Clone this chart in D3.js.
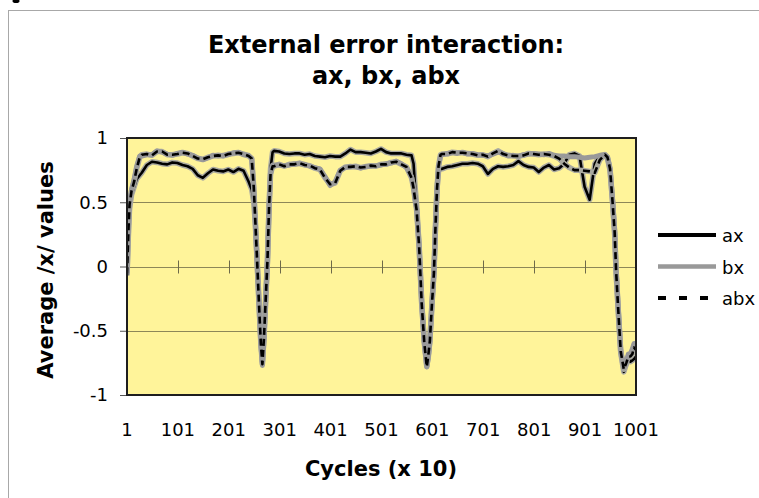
<!DOCTYPE html>
<html>
<head>
<meta charset="utf-8">
<script src="https://cdn.jsdelivr.net/npm/d3@7"></script>
<style>
  body { margin: 0; background: #fff; }
  svg { display: block; font-family: "DejaVu Sans", Verdana, sans-serif; }
</style>
</head>
<body>
<div id="chart"></div>
<script>
// values (cycles x 10)
const cycles = [
    1, 4, 6, 10, 15, 20, 26, 30,
    40, 50, 60, 70, 80, 90, 100, 110, 120, 130, 140, 150, 160, 170, 180, 190, 200, 210, 220, 230, 240,
    246, 250, 253, 256, 261, 264, 267, 270, 273, 277, 280, 283, 287,
    290, 300, 310, 320, 330, 340, 350, 360, 370, 380, 390, 400, 410, 420, 430, 440, 450, 460, 470, 480, 490, 500, 510, 520, 530, 540, 550, 560,
    564, 567, 570, 575, 580, 585, 590, 593, 596, 600, 604, 607, 610, 613, 617,
    620, 630, 640, 650, 660, 670, 680, 690, 700, 710, 720, 730, 740, 750, 760, 770, 780, 790, 800, 810, 820, 830, 840, 850, 860, 870, 880, 890, 900, 910, 920, 930, 940, 945, 950,
    955, 959, 962, 966, 971, 977, 982, 986, 990, 994, 997, 1001
]
const axValues = [
    -0.07, 0.28, 0.45, 0.56, 0.62, 0.68, 0.71, 0.73,
    0.79, 0.815, 0.81, 0.8, 0.795, 0.81, 0.805, 0.79, 0.78, 0.76, 0.71, 0.69, 0.725, 0.755, 0.745, 0.74, 0.755, 0.735, 0.76, 0.745, 0.66,
    0.6, 0.5, 0.34, 0.1, -0.34, -0.58, -0.74, -0.56, -0.3, 0.05, 0.45, 0.76, 0.89,
    0.9, 0.895, 0.88, 0.875, 0.88, 0.88, 0.87, 0.875, 0.86, 0.855, 0.85, 0.86, 0.855, 0.855, 0.88, 0.91, 0.89, 0.89, 0.885, 0.88, 0.895, 0.915, 0.89, 0.88, 0.88, 0.88, 0.87, 0.865,
    0.8, 0.62, 0.48, 0.15, -0.28, -0.58, -0.77, -0.7, -0.58, -0.3, -0.05, 0.3, 0.6, 0.74, 0.76,
    0.76, 0.775, 0.78, 0.79, 0.8, 0.8, 0.805, 0.8, 0.78, 0.72, 0.76, 0.78, 0.775, 0.78, 0.79, 0.82, 0.79, 0.775, 0.77, 0.735, 0.77, 0.79, 0.755, 0.765, 0.8, 0.87, 0.88, 0.86, 0.62, 0.52, 0.8, 0.86, 0.87, 0.84, 0.75,
    0.5, 0.26, -0.05, -0.34, -0.67, -0.82, -0.76, -0.72, -0.74, -0.73, -0.72, -0.7
]
const bxValues = [
    -0.05, 0.32, 0.5, 0.6, 0.68, 0.78, 0.86, 0.86,
    0.87, 0.87, 0.9, 0.89, 0.875, 0.865, 0.88, 0.89, 0.875, 0.865, 0.845, 0.83, 0.845, 0.865, 0.86, 0.865, 0.87, 0.885, 0.89, 0.87, 0.865,
    0.84, 0.62, 0.36, 0.1, -0.34, -0.6, -0.77, -0.57, -0.3, 0.05, 0.45, 0.72, 0.79,
    0.79, 0.79, 0.785, 0.79, 0.8, 0.8, 0.795, 0.78, 0.77, 0.76, 0.7, 0.63, 0.66, 0.75, 0.77, 0.78, 0.775, 0.765, 0.78, 0.78, 0.785, 0.79, 0.8, 0.805, 0.82, 0.8, 0.77, 0.7,
    0.62, 0.52, 0.45, 0.15, -0.28, -0.58, -0.78, -0.7, -0.58, -0.3, -0.05, 0.3, 0.6, 0.78, 0.86,
    0.87, 0.88, 0.885, 0.88, 0.89, 0.875, 0.88, 0.87, 0.865, 0.86, 0.875, 0.89, 0.88, 0.86, 0.865, 0.855, 0.87, 0.875, 0.88, 0.875, 0.87, 0.88, 0.865, 0.86, 0.86, 0.855, 0.855, 0.85, 0.845, 0.85, 0.855, 0.865, 0.87, 0.85, 0.76,
    0.52, 0.28, -0.03, -0.32, -0.65, -0.79, -0.74, -0.68, -0.68, -0.64, -0.6, -0.6
]
const abxValues = [
    -0.06, 0.3, 0.48, 0.59, 0.66, 0.76, 0.85, 0.87,
    0.875, 0.865, 0.895, 0.895, 0.87, 0.87, 0.875, 0.885, 0.88, 0.86, 0.84, 0.835, 0.85, 0.86, 0.865, 0.86, 0.875, 0.88, 0.885, 0.875, 0.86,
    0.84, 0.62, 0.36, 0.1, -0.35, -0.6, -0.76, -0.56, -0.3, 0.05, 0.45, 0.72, 0.78,
    0.78, 0.795, 0.78, 0.795, 0.795, 0.805, 0.79, 0.785, 0.765, 0.755, 0.69, 0.64, 0.65, 0.745, 0.775, 0.775, 0.78, 0.77, 0.775, 0.785, 0.78, 0.795, 0.795, 0.81, 0.815, 0.795, 0.775, 0.69,
    0.61, 0.52, 0.44, 0.15, -0.29, -0.59, -0.78, -0.69, -0.58, -0.3, -0.05, 0.3, 0.6, 0.78, 0.87,
    0.875, 0.875, 0.89, 0.885, 0.885, 0.88, 0.875, 0.865, 0.87, 0.855, 0.88, 0.9, 0.875, 0.865, 0.86, 0.86, 0.865, 0.88, 0.875, 0.87, 0.875, 0.87, 0.86, 0.84, 0.8, 0.77, 0.75, 0.75, 0.745, 0.74, 0.73, 0.83, 0.87, 0.85, 0.76,
    0.5, 0.27, -0.04, -0.33, -0.66, -0.8, -0.75, -0.7, -0.7, -0.68, -0.63, -0.65
]
const seriesNames = ["ax", "bx", "abx"]
const yTicks = [-1, -0.5, 0, 0.5, 1]
const xTicks = [1, 101, 201, 301, 401, 501, 601, 701, 801, 901, 1001]
const titleLines = ["External error interaction:", "ax, bx, abx"]

const width = 759
const height = 498
const plot = { left: 127, right: 636, top: 138, bottom: 395 }

const svg = d3.select("#chart")
    .append("svg")
    .attr("width", width)
    .attr("height", height)

const x = d3.scaleLinear().domain([1, 1001]).range([plot.left, plot.right])
const y = d3.scaleLinear().domain([-1, 1]).range([plot.bottom, plot.top])

// chart frame
svg.append("rect")
    .attr("x", 8.5).attr("y", 10.5)
    .attr("width", 900).attr("height", 700)
    .attr("fill", "#fff")
    .attr("stroke", "#a8a8a8")

// bit of a glyph from the page above the frame
svg.append("ellipse")
    .attr("cx", 16).attr("cy", 1)
    .attr("rx", 3.5).attr("ry", 2)
    .attr("fill", "#000")

// title
svg.selectAll(".title")
    .data(titleLines)
    .enter()
    .append("text")
    .attr("class", "title")
    .attr("x", 386)
    .attr("y", (d, i) => 53 + i * 31)
    .attr("text-anchor", "middle")
    .attr("font-weight", "bold")
    .attr("font-size", 24)
    .text(d => d)

// plot area
svg.append("rect")
    .attr("x", plot.left).attr("y", plot.top)
    .attr("width", plot.right - plot.left).attr("height", plot.bottom - plot.top)
    .attr("fill", "#fff49a")

svg.selectAll(".grid")
    .data(yTicks.filter(d => d > -1 && d < 1))
    .enter()
    .append("line")
    .attr("class", "grid")
    .attr("x1", plot.left).attr("x2", plot.right)
    .attr("y1", d => Math.round(y(d)) + 0.5).attr("y2", d => Math.round(y(d)) + 0.5)
    .attr("stroke", "#8d8758")
    .attr("stroke-width", 1)

// category ticks crossing the zero line
svg.selectAll(".xtick")
    .data(xTicks.slice(1, -1))
    .enter()
    .append("line")
    .attr("class", "xtick")
    .attr("x1", d => Math.round(x(d)) + 0.5).attr("x2", d => Math.round(x(d)) + 0.5)
    .attr("y1", y(0) - 6).attr("y2", y(0) + 7)
    .attr("stroke", "#6e6a4a")

// series
svg.append("clipPath").attr("id", "plot-clip")
    .append("rect")
    .attr("x", plot.left).attr("y", plot.top - 10)
    .attr("width", plot.right - plot.left).attr("height", plot.bottom - plot.top + 20)

const line = d3.line()
    .x(d => x(d[0]))
    .y(d => y(d[1]))

const axData = cycles.map((c, i) => [c, axValues[i]])
const bxData = cycles.map((c, i) => [c, bxValues[i]])
const abxData = cycles.map((c, i) => [c, abxValues[i]])

const lines = svg.append("g").attr("clip-path", "url(#plot-clip)")

function addPath(data, stroke, strokeWidth, dash) {
    lines.append("path").datum(data)
        .attr("d", line)
        .attr("fill", "none")
        .attr("stroke", stroke)
        .attr("stroke-width", strokeWidth)
        .attr("stroke-dasharray", dash)
        .attr("stroke-linejoin", "round")
}

addPath(axData, "#a9a9a0", 5.5, null)
addPath(axData, "#000", 2.6, null)
addPath(abxData, "#a9a9a0", 5.5, null)
addPath(bxData, "#999", 5, null)
addPath(abxData, "#000", 2.6, "7,4")

// plot border
svg.append("rect")
    .attr("x", plot.left).attr("y", plot.top)
    .attr("width", plot.right - plot.left).attr("height", plot.bottom - plot.top)
    .attr("fill", "none")
    .attr("stroke", "#1e1e1e")
    .attr("stroke-width", 2)

// y axis
const yAxis = svg.append("g")
    .attr("transform", `translate(${plot.left - 1},0)`)
    .call(d3.axisLeft(y).tickValues(yTicks).tickSize(6).tickPadding(12).tickFormat(d => String(d)))
yAxis.select(".domain").remove()
yAxis.selectAll("line").attr("stroke", "#555")
yAxis.selectAll("text")
    .attr("font-size", 18)
    .attr("font-family", "DejaVu Sans, Verdana, sans-serif")
    .attr("fill", "#000")

// x labels
svg.selectAll(".xlabel")
    .data(xTicks)
    .enter()
    .append("text")
    .attr("class", "xlabel")
    .attr("x", d => x(d))
    .attr("y", 436)
    .attr("text-anchor", "middle")
    .attr("font-size", 18)
    .text(d => d)

// axis titles
svg.append("text")
    .attr("x", 381).attr("y", 476)
    .attr("text-anchor", "middle")
    .attr("font-weight", "bold")
    .attr("font-size", 21)
    .text("Cycles (x 10)")

svg.append("text")
    .attr("transform", "translate(53,270) rotate(-90)")
    .attr("text-anchor", "middle")
    .attr("font-weight", "bold")
    .attr("font-size", 21)
    .text("Average /x/ values")

// legend
const legendStyles = [
    { stroke: "#000", width: 4, dash: null },
    { stroke: "#999", width: 4.5, dash: null },
    { stroke: "#000", width: 4, dash: "8,13" }
]
const legend = svg.selectAll(".legend")
    .data(seriesNames)
    .enter()
    .append("g")
    .attr("class", "legend")
    .attr("transform", (d, i) => `translate(658,${235 + i * 31.5})`)
legend.append("line")
    .attr("x1", 0).attr("x2", 58)
    .attr("stroke", (d, i) => legendStyles[i].stroke)
    .attr("stroke-width", (d, i) => legendStyles[i].width)
    .attr("stroke-dasharray", (d, i) => legendStyles[i].dash)
legend.append("text")
    .attr("x", 64).attr("y", 7)
    .attr("font-size", 18)
    .text(d => d)
</script>
</body>
</html>
